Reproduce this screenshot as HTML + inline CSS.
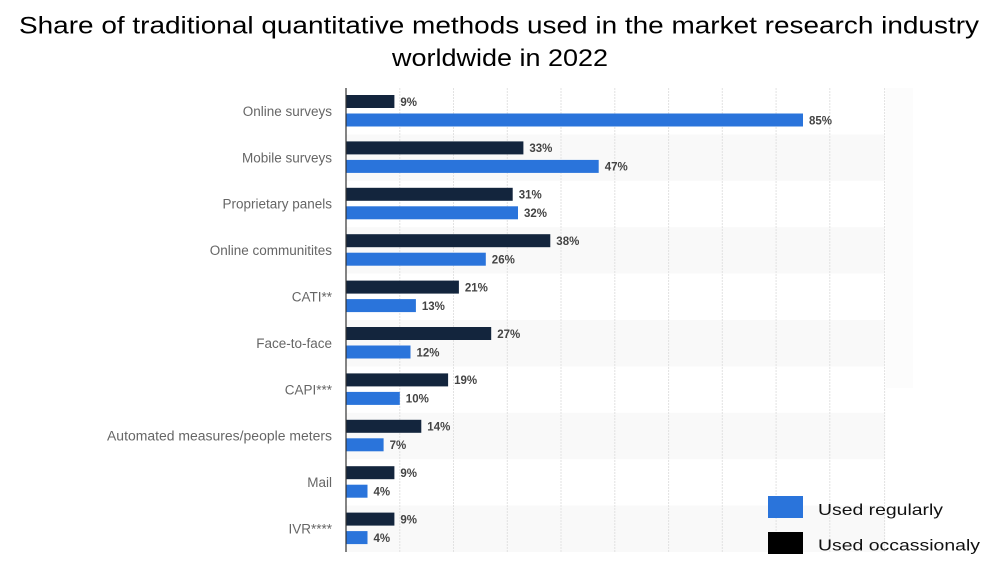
<!DOCTYPE html>
<html>
<head>
<meta charset="utf-8">
<style>
  html,body{margin:0;padding:0;background:#fff;}
  svg{display:block;}
  text{font-family:"Liberation Sans",sans-serif;}
</style>
</head>
<body>
<svg width="1000" height="570" viewBox="0 0 1000 570" xmlns="http://www.w3.org/2000/svg">
  <rect x="0" y="0" width="1000" height="570" fill="#ffffff"/>
  <!-- title -->
  <text x="19" y="33.5" font-size="24" fill="#000" textLength="960" lengthAdjust="spacingAndGlyphs">Share of traditional quantitative methods used in the market research industry</text>
  <text x="392" y="66" font-size="24" fill="#000" textLength="216" lengthAdjust="spacingAndGlyphs">worldwide in 2022</text>

  <!-- faint right strip -->
  <rect x="886" y="88" width="27" height="300" fill="#fcfcfc"/>

  <!-- alternating bands -->
  <g fill="#f9f9f9">
    <rect x="346" y="134.4" width="539" height="46.4"/>
    <rect x="346" y="227.2" width="539" height="46.4"/>
    <rect x="346" y="320.0" width="539" height="46.4"/>
    <rect x="346" y="412.8" width="539" height="46.4"/>
    <rect x="346" y="505.6" width="539" height="46.4"/>
  </g>

  <!-- gridlines -->
  <g stroke="#e2e2e2" stroke-width="1" stroke-dasharray="2,1">
    <line x1="399.8" y1="88" x2="399.8" y2="552"/>
    <line x1="453.5" y1="88" x2="453.5" y2="552"/>
    <line x1="507.3" y1="88" x2="507.3" y2="552"/>
    <line x1="561.0" y1="88" x2="561.0" y2="552"/>
    <line x1="614.8" y1="88" x2="614.8" y2="552"/>
    <line x1="668.6" y1="88" x2="668.6" y2="552"/>
    <line x1="722.3" y1="88" x2="722.3" y2="552"/>
    <line x1="776.1" y1="88" x2="776.1" y2="552"/>
    <line x1="829.8" y1="88" x2="829.8" y2="552"/>
    <line x1="884.6" y1="88" x2="884.6" y2="552"/>
  </g>

  <!-- bars: dark (occasionally) -->
  <g fill="#13253d">
    <rect x="346" y="95.0" width="48.4" height="13"/>
    <rect x="346" y="141.4" width="177.4" height="13"/>
    <rect x="346" y="187.8" width="166.7" height="13"/>
    <rect x="346" y="234.2" width="204.3" height="13"/>
    <rect x="346" y="280.6" width="112.9" height="13"/>
    <rect x="346" y="327.0" width="145.2" height="13"/>
    <rect x="346" y="373.4" width="102.1" height="13"/>
    <rect x="346" y="419.8" width="75.3" height="13"/>
    <rect x="346" y="466.2" width="48.4" height="13"/>
    <rect x="346" y="512.6" width="48.4" height="13"/>
  </g>
  <!-- bars: blue (regularly) -->
  <g fill="#2a74db">
    <rect x="346" y="113.5" width="457.0" height="13"/>
    <rect x="346" y="159.9" width="252.7" height="13"/>
    <rect x="346" y="206.3" width="172.0" height="13"/>
    <rect x="346" y="252.7" width="139.8" height="13"/>
    <rect x="346" y="299.1" width="69.9" height="13"/>
    <rect x="346" y="345.5" width="64.5" height="13"/>
    <rect x="346" y="391.9" width="53.8" height="13"/>
    <rect x="346" y="438.3" width="37.6" height="13"/>
    <rect x="346" y="484.7" width="21.5" height="13"/>
    <rect x="346" y="531.1" width="21.5" height="13"/>
  </g>

  <!-- axis -->
  <line x1="346" y1="88" x2="346" y2="552" stroke="#333" stroke-width="1.2"/>

  <!-- value labels -->
  <g font-size="11.5" font-weight="bold" fill="#444">
    <text x="400.4" y="105.8">9%</text>
    <text x="809.0" y="124.3">85%</text>
    <text x="529.4" y="152.2">33%</text>
    <text x="604.7" y="170.7">47%</text>
    <text x="518.7" y="198.6">31%</text>
    <text x="524.0" y="217.1">32%</text>
    <text x="556.3" y="245.0">38%</text>
    <text x="491.8" y="263.5">26%</text>
    <text x="464.9" y="291.4">21%</text>
    <text x="421.9" y="309.9">13%</text>
    <text x="497.2" y="337.8">27%</text>
    <text x="416.5" y="356.3">12%</text>
    <text x="454.1" y="384.2">19%</text>
    <text x="405.8" y="402.7">10%</text>
    <text x="427.3" y="430.6">14%</text>
    <text x="389.6" y="449.1">7%</text>
    <text x="400.4" y="477.0">9%</text>
    <text x="373.5" y="495.5">4%</text>
    <text x="400.4" y="523.4">9%</text>
    <text x="373.5" y="541.9">4%</text>
  </g>

  <!-- category labels -->
  <g font-size="13.5" fill="#666" text-anchor="end">
    <text x="332" y="115.9">Online surveys</text>
    <text x="332" y="162.3">Mobile surveys</text>
    <text x="332" y="208.7">Proprietary panels</text>
    <text x="332" y="255.1">Online communitites</text>
    <text x="332" y="301.5">CATI**</text>
    <text x="332" y="347.9">Face-to-face</text>
    <text x="332" y="394.3">CAPI***</text>
    <text x="332" y="440.7" textLength="225" lengthAdjust="spacingAndGlyphs">Automated measures/people meters</text>
    <text x="332" y="487.1">Mail</text>
    <text x="332" y="533.5">IVR****</text>
  </g>

  <!-- legend -->
  <rect x="768" y="496" width="35" height="22" fill="#2a74db"/>
  <rect x="768" y="532" width="35" height="22" fill="#000"/>
  <text x="818" y="515" font-size="16" fill="#111" textLength="125" lengthAdjust="spacingAndGlyphs">Used regularly</text>
  <text x="818" y="550.5" font-size="16" fill="#111" textLength="162" lengthAdjust="spacingAndGlyphs">Used occassionaly</text>
</svg>
</body>
</html>
